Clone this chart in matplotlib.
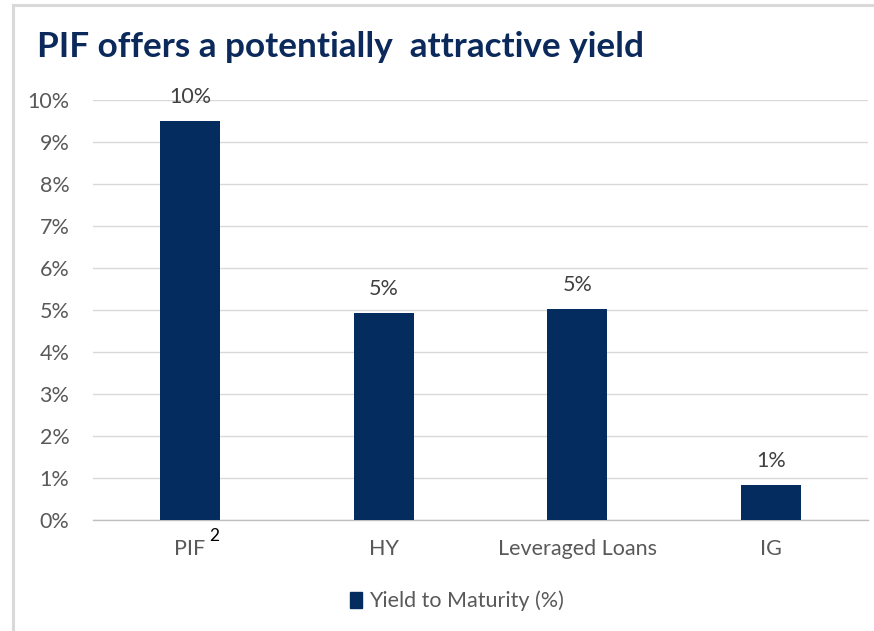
import matplotlib
matplotlib.use("Agg")
import matplotlib.pyplot as plt
from matplotlib.patches import Patch
from matplotlib.lines import Line2D
from matplotlib.ticker import FuncFormatter, MultipleLocator

categories = ["PIF", "HY", "Leveraged Loans", "IG"]
values = [9.5, 4.93, 5.02, 0.83]
series_name = "Yield to Maturity (%)"
title = "PIF offers a potentially  attractive yield"

BAR = "#052C5E"
TXT = "#595959"
FONT = ["Lato", "DejaVu Sans"]
plt.rcParams["font.family"] = FONT
FS = 15.5

W, H = 874, 631
fig = plt.figure(figsize=(W / 100, H / 100), dpi=100)
ax = fig.add_axes([93 / W, 111 / H, 775 / W, 420 / H])

x = list(range(len(categories)))
bars = ax.bar(x, values, width=0.31, color=BAR, zorder=3)
ax.set_xlim(-0.5, len(categories) - 0.5)
ax.set_ylim(0, 10)
ax.yaxis.set_major_locator(MultipleLocator(1))
ax.yaxis.set_major_formatter(FuncFormatter(lambda v, p: f"{v:.0f}%"))
ax.grid(axis="y", color="#D9D9D9", linewidth=1.0, zorder=0)
for s in ["top", "right", "left"]:
    ax.spines[s].set_visible(False)
ax.spines["bottom"].set_color("#BFBFBF")
ax.spines["bottom"].set_linewidth(1.0)
ax.tick_params(axis="both", length=0, colors=TXT, labelsize=FS)
ax.tick_params(axis="y", pad=17)
ax.tick_params(axis="x", pad=14)
ax.set_xticks(x)
ax.set_xticklabels(categories)

for b, v in zip(bars, values):
    ax.annotate(f"{v:.0f}%", xy=(b.get_x() + b.get_width() / 2, v),
                xytext=(0, 24), textcoords="offset pixels", ha="center",
                va="center", color="#404040", fontsize=FS, clip_on=False)

fig.canvas.draw()
tl = ax.get_xticklabels()[0]
ax.annotate("2", xy=(1.0, 0.75), xycoords=tl, xytext=(4, 0),
            textcoords="offset pixels", ha="left", va="bottom",
            color="#000000", fontsize=12.5)

fig.text(37 / W, 1 - 47 / H, title, fontsize=25.3, fontweight="bold",
         color="#0B2A5B", ha="left", va="center")

handle = Patch(facecolor=BAR, edgecolor=BAR)
fig.legend([handle], [series_name], loc="center",
           bbox_to_anchor=(457 / W, 1 - 601 / H), frameon=False,
           handlelength=0.55, handleheight=0.8, handletextpad=0.3,
           fontsize=FS, labelcolor=TXT)

fig.add_artist(Line2D([13 / W, 13 / W], [0, 1 - 4.5 / H], transform=fig.transFigure,
                      color="#D9D9D9", linewidth=2.2))
fig.add_artist(Line2D([13 / W, 1], [1 - 4.5 / H, 1 - 4.5 / H], transform=fig.transFigure,
                      color="#D9D9D9", linewidth=2.2))

fig.savefig("out.png", dpi=100)
